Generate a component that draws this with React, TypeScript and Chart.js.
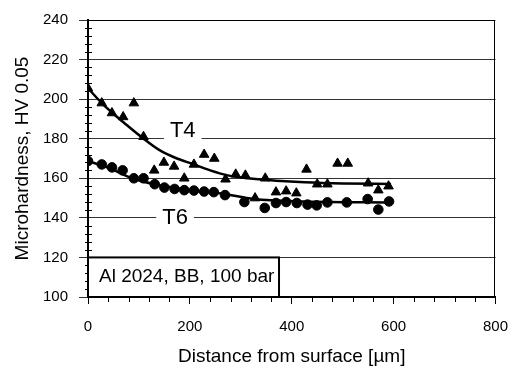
import { useEffect, useRef } from "react";
import { Chart, registerables } from "chart.js";

Chart.register(...registerables);

const FONT = "Arial, 'Liberation Sans', sans-serif";

// Measured points (distance µm, hardness HV 0.05)
const t4Distance = [0, 27, 47, 69, 90, 109, 130, 149, 169, 189, 208, 228, 248, 270, 290, 309, 328, 348, 369, 389, 409, 429, 450, 470, 490, 510, 550, 570, 590];
const t4Hardness = [205.5, 198, 193, 191, 198, 181, 164, 168, 166, 160, 167, 172, 170, 159.5, 162, 161.5, 150, 160, 153, 153.5, 152.5, 164.5, 157, 157, 167.5, 167.5, 157.5, 154, 156];

const t6Distance = [0, 27, 47, 68, 90, 109, 131, 150, 170, 189, 208, 228, 247, 269, 307, 347, 369, 389, 410, 431, 449, 470, 508, 549, 570, 591];
const t6Hardness = [168.7, 167, 165.5, 164, 160, 160, 157, 155.3, 154.6, 154, 153.8, 153.3, 153, 151.5, 148, 145, 147.5, 148, 147.5, 146.7, 146.3, 147.8, 147.8, 149.5, 144.2, 148.3];

// Trend curves
const t4TrendDistance = [0, 27, 48, 70, 109, 138, 170, 208, 240, 272, 314, 370, 425, 500, 595];
const t4TrendHardness = [205.5, 198, 193, 188.2, 180, 174.6, 170.5, 167, 164, 161.6, 160, 158.8, 158, 157.4, 157.1];

const t6TrendDistance = [0, 27, 47, 87, 130, 170, 200, 262, 326, 428, 595];
const t6TrendHardness = [168.7, 166.5, 164.5, 160, 157, 155.2, 154, 152.3, 149.5, 148.3, 147.8];

const seriesLabels = ["T4", "T6"];
const xTitle = "Distance from surface [µm]";
const yTitle = "Microhardness, HV 0.05";
const boxText = "Al 2024, BB, 100 bar";

const xMin = 0, xMax = 800, xStep = 200, xMinorStep = 40;
const yMin = 100, yMax = 240, yStep = 20, yMinorStep = 4;

// annotation anchors (data units)
const labelAnchors = [
  { x: 186, y: 184.4 },
  { x: 171, y: 140.3 },
];
const boxCorner = { x: 375, y: 120 };

const zip = (xs: number[], ys: number[]) => xs.map((x, i) => ({ x, y: ys[i] }));

const decor = {
  id: "decor",
  afterDatasetsDraw(chart: any) {
    const { ctx, chartArea: ca, scales } = chart;
    const xs = scales.x;
    const ys = scales.y;
    ctx.save();

    // series labels with white backing over gridlines
    ctx.font = `22px ${FONT}`;
    ctx.textAlign = "center";
    ctx.textBaseline = "middle";
    seriesLabels.forEach((t, i) => {
      const px = xs.getPixelForValue(labelAnchors[i].x);
      const py = ys.getPixelForValue(labelAnchors[i].y);
      const w = ctx.measureText(t).width + 12;
      ctx.fillStyle = "#fff";
      ctx.fillRect(px - w / 2, py - 11, w, 22);
      ctx.fillStyle = "#000";
      ctx.fillText(t, px, py + 1);
    });

    // right & top frame
    ctx.strokeStyle = "#000";
    ctx.lineWidth = 1;
    ctx.beginPath();
    const r = Math.round(ca.right) - 0.5;
    const t = Math.round(ca.top) + 0.5;
    ctx.moveTo(ca.left, t);
    ctx.lineTo(r, t);
    ctx.lineTo(r, ca.bottom);
    ctx.stroke();

    // minor ticks
    ctx.lineWidth = 1;
    ctx.beginPath();
    for (let v = yMin; v <= yMax; v += yMinorStep) {
      if (v % yStep === 0) continue;
      const py = Math.round(ys.getPixelForValue(v)) + 0.5;
      ctx.moveTo(ca.left - 3, py);
      ctx.lineTo(ca.left + 4, py);
    }
    for (let v = xMin; v <= xMax; v += xMinorStep) {
      if (v % xStep === 0) continue;
      const px = Math.round(xs.getPixelForValue(v)) + 0.5;
      ctx.moveTo(px, ca.bottom);
      ctx.lineTo(px, ca.bottom + 5);
    }
    ctx.stroke();

    // info box
    const bx0 = xs.getPixelForValue(xMin);
    const bx1 = xs.getPixelForValue(boxCorner.x);
    const by0 = ys.getPixelForValue(boxCorner.y);
    const by1 = ys.getPixelForValue(yMin);
    ctx.fillStyle = "#fff";
    ctx.fillRect(bx0, by0, bx1 - bx0, by1 - by0);
    ctx.lineWidth = 2;
    ctx.strokeStyle = "#000";
    ctx.strokeRect(bx0, by0, bx1 - bx0, by1 - by0);
    ctx.fillStyle = "#000";
    ctx.font = `19px ${FONT}`;
    ctx.textAlign = "left";
    ctx.textBaseline = "middle";
    ctx.fillText(boxText, bx0 + 11, (by0 + by1) / 2);

    ctx.restore();
  },
};

export default function App() {
  const ref = useRef<HTMLCanvasElement>(null);

  useEffect(() => {
    if (!ref.current) return;
    const chart = new Chart(ref.current, {
      type: "scatter",
      data: {
        datasets: [
          {
            type: "line",
            label: "T4 trend",
            data: zip(t4TrendDistance, t4TrendHardness),
            borderColor: "#000",
            borderWidth: 2.5,
            pointRadius: 0,
            cubicInterpolationMode: "monotone",
            fill: false,
          },
          {
            type: "line",
            label: "T6 trend",
            data: zip(t6TrendDistance, t6TrendHardness),
            borderColor: "#000",
            borderWidth: 2.5,
            pointRadius: 0,
            cubicInterpolationMode: "monotone",
            fill: false,
          },
          {
            label: "T4",
            data: zip(t4Distance, t4Hardness),
            pointStyle: "triangle",
            pointRadius: 5.5,
            backgroundColor: "#000",
            borderColor: "#000",
            borderWidth: 1,
          },
          {
            label: "T6",
            data: zip(t6Distance, t6Hardness),
            pointStyle: "circle",
            pointRadius: 4.8,
            backgroundColor: "#000",
            borderColor: "#000",
            borderWidth: 1,
          },
        ],
      } as any,
      options: {
        animation: false,
        responsive: false,
        layout: { padding: { left: 0, right: 16, top: 16, bottom: 0 } },
        plugins: {
          legend: { display: false },
          tooltip: { enabled: false },
        },
        scales: {
          x: {
            type: "linear",
            min: xMin,
            max: xMax,
            afterFit(scale: any) {
              scale.height = 75;
            },
            ticks: {
              stepSize: xStep,
              color: "#000",
              font: { family: FONT, size: 15 },
              padding: 14,
              maxRotation: 0,
            },
            grid: {
              display: true,
              drawOnChartArea: false,
              drawTicks: true,
              tickLength: 7,
              color: "#000",
            },
            border: { display: true, color: "#000", width: 2 },
            title: {
              display: true,
              text: xTitle,
              color: "#000",
              font: { family: FONT, size: 19 },
              padding: { top: 0, bottom: 4 },
            },
          },
          y: {
            type: "linear",
            min: yMin,
            max: yMax,
            afterFit(scale: any) {
              scale.width = 88;
            },
            ticks: {
              stepSize: yStep,
              color: "#000",
              font: { family: FONT, size: 15 },
              padding: 11,
            },
            grid: {
              display: true,
              drawOnChartArea: true,
              drawTicks: true,
              tickLength: 9,
              color: "#333",
              lineWidth: 1,
            },
            border: { display: true, color: "#000", width: 2 },
            title: {
              display: true,
              text: yTitle,
              color: "#000",
              font: { family: FONT, size: 19 },
              padding: { top: 11, bottom: 0 },
            },
          },
        },
      } as any,
      plugins: [decor],
    });
    return () => chart.destroy();
  }, []);

  return (
    <div style={{ position: "fixed", left: 0, top: 0, width: 522, height: 372, background: "#fff" }}>
      <canvas ref={ref} width={522} height={372} style={{ display: "block", width: 522, height: 372 }} />
    </div>
  );
}
